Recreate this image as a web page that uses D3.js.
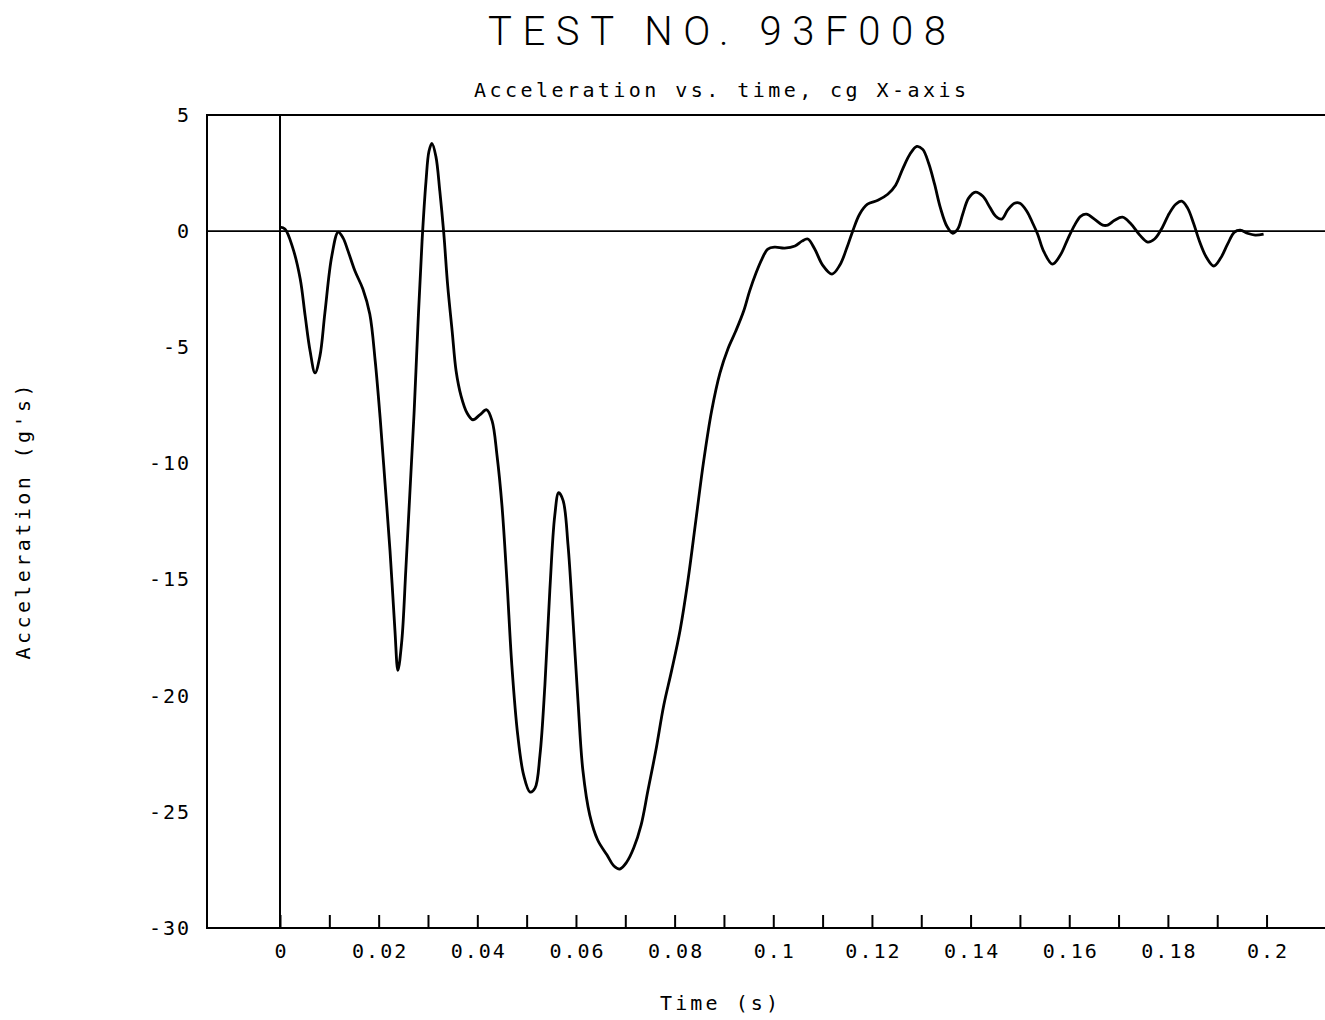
<!DOCTYPE html>
<html>
<head>
<meta charset="utf-8">
<script src="https://cdn.jsdelivr.net/npm/d3@7"></script>
<style>
  body { margin: 0; background: #fff; }
  svg { display: block; }
  text { font-family: "DejaVu Sans Mono", monospace; fill: #000; }
</style>
</head>
<body>
<svg id="chart"></svg>
<script>
// time (s)
const timeS = [
  0.0000, 0.0010, 0.0026, 0.0041, 0.0051, 0.0061, 0.0071, 0.0081, 0.0091, 0.0105,
  0.0118, 0.0128, 0.0138, 0.0152, 0.0168, 0.0182, 0.0193, 0.0203, 0.0213, 0.0223,
  0.0233, 0.0239, 0.0247, 0.0255, 0.0263, 0.0272, 0.0280, 0.0288, 0.0296, 0.0302,
  0.0308, 0.0316, 0.0324, 0.0332, 0.0340, 0.0349, 0.0357, 0.0367, 0.0379, 0.0391,
  0.0405, 0.0419, 0.0430, 0.0440, 0.0450, 0.0460, 0.0470, 0.0482, 0.0494, 0.0507,
  0.0517, 0.0527, 0.0537, 0.0547, 0.0557, 0.0565, 0.0574, 0.0584, 0.0594, 0.0604,
  0.0614, 0.0628, 0.0644, 0.0663, 0.0677, 0.0689, 0.0703, 0.0717, 0.0732, 0.0746,
  0.0762, 0.0778, 0.0794, 0.0811, 0.0827, 0.0843, 0.0859, 0.0875, 0.0892, 0.0908,
  0.0924, 0.0940, 0.0952, 0.0965, 0.0977, 0.0989, 0.1003, 0.1023, 0.1044, 0.1058,
  0.1070, 0.1084, 0.1100, 0.1119, 0.1135, 0.1149, 0.1161, 0.1175, 0.1191, 0.1212,
  0.1232, 0.1248, 0.1262, 0.1277, 0.1291, 0.1303, 0.1315, 0.1327, 0.1339, 0.1352,
  0.1364, 0.1374, 0.1384, 0.1396, 0.1410, 0.1425, 0.1439, 0.1451, 0.1463, 0.1475,
  0.1489, 0.1500, 0.1514, 0.1526, 0.1536, 0.1548, 0.1566, 0.1582, 0.1597, 0.1611,
  0.1623, 0.1635, 0.1651, 0.1668, 0.1678, 0.1692, 0.1708, 0.1724, 0.1743, 0.1759,
  0.1773, 0.1787, 0.1803, 0.1816, 0.1828, 0.1840, 0.1852, 0.1864, 0.1878, 0.1893,
  0.1907, 0.1921, 0.1935, 0.1947, 0.1961, 0.1977, 0.1994
]

// acceleration (g's) at each time
const accelG = [
  0.17, 0.09, -0.73, -2.06, -3.65, -5.16, -6.10, -5.37, -3.52, -1.07,
  -0.04, -0.30, -0.86, -1.72, -2.49, -3.57, -5.59, -8.04, -10.87, -13.75,
  -17.19, -18.91, -17.62, -14.61, -11.39, -7.74, -3.87, -0.43, 2.15, 3.44,
  3.78, 3.22, 1.72, -0.09, -2.36, -4.30, -6.02, -7.09, -7.82, -8.12,
  -7.91, -7.69, -8.17, -9.67, -11.82, -15.04, -18.69, -21.70, -23.42, -24.15,
  -23.98, -22.56, -19.55, -15.47, -12.25, -11.26, -11.60, -13.54, -16.76, -20.20,
  -23.21, -25.14, -26.21, -26.86, -27.33, -27.46, -27.16, -26.56, -25.57, -24.07,
  -22.35, -20.41, -18.91, -17.19, -15.04, -12.46, -9.88, -7.74, -6.10, -5.07,
  -4.30, -3.44, -2.58, -1.80, -1.20, -0.77, -0.69, -0.73, -0.64, -0.43,
  -0.34, -0.77, -1.46, -1.85, -1.46, -0.73, 0.00, 0.73, 1.16, 1.33,
  1.59, 1.98, 2.66, 3.31, 3.65, 3.52, 2.92, 2.02, 0.99, 0.21,
  -0.09, 0.09, 0.73, 1.42, 1.68, 1.50, 1.03, 0.64, 0.52, 0.90,
  1.20, 1.20, 0.86, 0.34, -0.13, -0.86, -1.42, -1.03, -0.34, 0.26,
  0.64, 0.73, 0.52, 0.26, 0.26, 0.47, 0.60, 0.34, -0.17, -0.47,
  -0.34, 0.09, 0.77, 1.16, 1.29, 0.99, 0.34, -0.43, -1.12, -1.50,
  -1.16, -0.56, -0.04, 0.04, -0.09, -0.17, -0.13
]

// axis ticks
const xTicks = d3.range(0, 21).map(i => i / 100)
const yTicks = [5, 0, -5, -10, -15, -20, -25, -30]

const width = 1325
const height = 1020

const svg = d3.select('#chart')
  .attr('width', width)
  .attr('height', height)

const xScale = d3.scaleLinear()
  .domain([-0.0148, 0.2155])
  .range([207, 1343])
const yScale = d3.scaleLinear()
  .domain([-30, 5])
  .range([928, 115])

// titles
svg.append('text')
  .attr('x', 717)
  .attr('y', 45)
  .attr('text-anchor', 'middle')
  .attr('textLength', 458)
  .attr('lengthAdjust', 'spacing')
  .style('font-family', 'Roboto, "DejaVu Sans", sans-serif')
  .style('font-weight', 300)
  .style('font-size', '40px')
  .text('TEST NO. 93F008')

svg.append('text')
  .attr('x', 720)
  .attr('y', 97)
  .attr('text-anchor', 'middle')
  .attr('textLength', 492)
  .attr('lengthAdjust', 'spacing')
  .style('font-size', '20px')
  .text('Acceleration vs. time, cg X-axis')

// x axis: small ticks pointing up, labels every 0.02
svg.append('g')
  .attr('transform', `translate(0,${yScale(-30)})`)
  .call(d3.axisBottom(xScale)
    .tickValues(xTicks)
    .tickSizeInner(-13)
    .tickSizeOuter(0)
    .tickPadding(16)
    .tickFormat((d, i) => i % 2 === 0 ? String(+d.toFixed(2)) : ''))
  .call(g => g.select('.domain').remove())
  .call(g => g.selectAll('line').attr('stroke', '#000').attr('stroke-width', 2))
  .call(g => g.selectAll('text')
    .attr('fill', '#000')
    .attr('dx', 1)
    .style('font-family', '"DejaVu Sans Mono", monospace')
    .style('font-size', '20px')
    .style('letter-spacing', '2px'))

// y axis: labels only
svg.append('g')
  .attr('transform', `translate(${xScale.range()[0]},0)`)
  .call(d3.axisLeft(yScale)
    .tickValues(yTicks)
    .tickSize(0)
    .tickPadding(16)
    .tickFormat(d => String(d)))
  .call(g => g.select('.domain').remove())
  .call(g => g.selectAll('text')
    .attr('fill', '#000')
    .style('font-family', '"DejaVu Sans Mono", monospace')
    .style('font-size', '20px')
    .style('letter-spacing', '2px'))

// frame and zero lines
svg.append('rect')
  .attr('x', xScale.range()[0])
  .attr('y', yScale(5))
  .attr('width', xScale.range()[1] - xScale.range()[0])
  .attr('height', yScale(-30) - yScale(5))
  .attr('fill', 'none')
  .attr('stroke', '#000')
  .attr('stroke-width', 2)

svg.append('line')
  .attr('x1', xScale.range()[0])
  .attr('x2', xScale.range()[1])
  .attr('y1', yScale(0))
  .attr('y2', yScale(0))
  .attr('stroke', '#000')
  .attr('stroke-width', 1.6)

svg.append('line')
  .attr('x1', xScale(0))
  .attr('x2', xScale(0))
  .attr('y1', yScale(5))
  .attr('y2', yScale(-30))
  .attr('stroke', '#000')
  .attr('stroke-width', 2)

// acceleration trace
const line = d3.line()
  .x(i => xScale(timeS[i]))
  .y(i => yScale(accelG[i]))
  .curve(d3.curveCatmullRom.alpha(0.5))

svg.append('path')
  .datum(d3.range(timeS.length))
  .attr('d', line)
  .attr('fill', 'none')
  .attr('stroke', '#000')
  .attr('stroke-width', 2.8)
  .attr('stroke-linejoin', 'round')

// axis labels
svg.append('text')
  .attr('x', 719)
  .attr('y', 1010)
  .attr('text-anchor', 'middle')
  .attr('textLength', 118)
  .attr('lengthAdjust', 'spacing')
  .style('font-size', '20px')
  .text('Time (s)')

svg.append('text')
  .attr('transform', 'translate(30,522) rotate(-90)')
  .attr('text-anchor', 'middle')
  .attr('textLength', 275)
  .attr('lengthAdjust', 'spacing')
  .style('font-size', '20px')
  .text("Acceleration (g's)")
</script>
</body>
</html>
